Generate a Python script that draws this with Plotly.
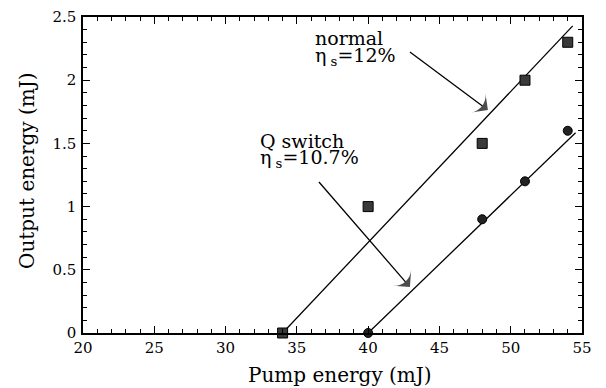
import plotly.graph_objects as go

# Measured data (Pump energy in mJ, Output energy in mJ)
normal_pump = [34, 40, 48, 51, 54]
normal_out = [0.0, 1.0, 1.5, 2.0, 2.3]
qswitch_pump = [40, 48, 51, 54]
qswitch_out = [0.0, 0.9, 1.2, 1.6]

# Linear fit lines (endpoints)
fit_normal_x = [34, 54.35]
fit_normal_y = [0.0, 2.43]
fit_q_x = [40, 54.55]
fit_q_y = [0.0, 1.585]

# Label arrows (tail -> head)
arrow_normal_x = [42.93, 48.4]
arrow_normal_y = [2.223, 1.764]
arrow_q_x = [36.55, 42.93]
arrow_q_y = [1.195, 0.364]

x_ticks = [20, 25, 30, 35, 40, 45, 50, 55]
y_ticks = [0, 0.5, 1, 1.5, 2, 2.5]
y_tick_labels = ["0", "0.5", "1", "1.5", "2", "2.5"]

x_title = "Pump energy (mJ)"
y_title = "Output energy (mJ)"

FONT = "DejaVu Serif"

fig = go.Figure()
fig.add_trace(go.Scatter(x=fit_normal_x, y=fit_normal_y, mode="lines",
                         line=dict(color="black", width=1.3), showlegend=False))
fig.add_trace(go.Scatter(x=fit_q_x, y=fit_q_y, mode="lines",
                         line=dict(color="black", width=1.3), showlegend=False))
for ax_, ay_ in [(arrow_normal_x, arrow_normal_y), (arrow_q_x, arrow_q_y)]:
    fig.add_trace(go.Scatter(x=ax_, y=ay_, mode="lines+markers",
                             line=dict(color="black", width=1.3),
                             marker=dict(symbol=["circle", "arrow-wide"], size=[0, 17],
                                         angleref="previous", color="black",
                                         line=dict(width=0)),
                             showlegend=False, hoverinfo="skip"))
fig.add_trace(go.Scatter(x=normal_pump, y=normal_out, mode="markers",
                         marker=dict(symbol="square", size=10, color="#3a3a3a",
                                     line=dict(color="black", width=1)),
                         showlegend=False, cliponaxis=False))
fig.add_trace(go.Scatter(x=qswitch_pump, y=qswitch_out, mode="markers",
                         marker=dict(symbol="circle", size=9, color="#222",
                                     line=dict(color="black", width=1)),
                         showlegend=False, cliponaxis=False))

ann_font = dict(family=FONT, size=19, color="black")
title_font = dict(family=FONT, size=20, color="black")
annotations = [
    dict(x=36.15, y=2.331, xref="x", yref="y", text="normal", showarrow=False,
         xanchor="left", yanchor="middle", font=ann_font),
    dict(x=36.15, y=2.19, xref="x", yref="y", text="η<sub> s</sub>=12%", showarrow=False,
         xanchor="left", yanchor="middle", font=ann_font),
    dict(x=32.3, y=1.516, xref="x", yref="y", text="Q switch", showarrow=False,
         xanchor="left", yanchor="middle", font=ann_font),
    dict(x=32.3, y=1.38, xref="x", yref="y", text="η<sub> s</sub>=10.7%", showarrow=False,
         xanchor="left", yanchor="middle", font=ann_font),
    # axis titles
    dict(x=0.515, y=-0.132, xref="paper", yref="paper", text=x_title, showarrow=False,
         xanchor="center", yanchor="middle", font=title_font),
    dict(x=-0.112, y=0.513, xref="paper", yref="paper", text=y_title, showarrow=False,
         textangle=-90, xanchor="center", yanchor="middle", font=title_font),
]

axis_common = dict(showline=True, linecolor="black", linewidth=1.5, mirror="allticks",
                   ticks="inside", ticklen=7, tickwidth=1, tickcolor="black",
                   showgrid=False, zeroline=False, automargin=False,
                   tickfont=dict(family=FONT, size=15, color="black"))

fig.update_layout(
    width=598, height=380,
    margin=dict(l=75, r=24, t=9, b=55),
    paper_bgcolor="white", plot_bgcolor="white",
    font=dict(family=FONT),
    xaxis=dict(range=[20, 55], tickvals=x_ticks,
               minor=dict(dtick=1, ticklen=4, ticks="inside", tickcolor="black"),
               **axis_common),
    yaxis=dict(range=[0, 2.5], tickvals=y_ticks, ticktext=y_tick_labels,
               ticklabelstandoff=2,
               minor=dict(dtick=0.1, ticklen=4, ticks="inside", tickcolor="black"),
               **axis_common),
    annotations=annotations,
)

fig.write_html("out.html")
